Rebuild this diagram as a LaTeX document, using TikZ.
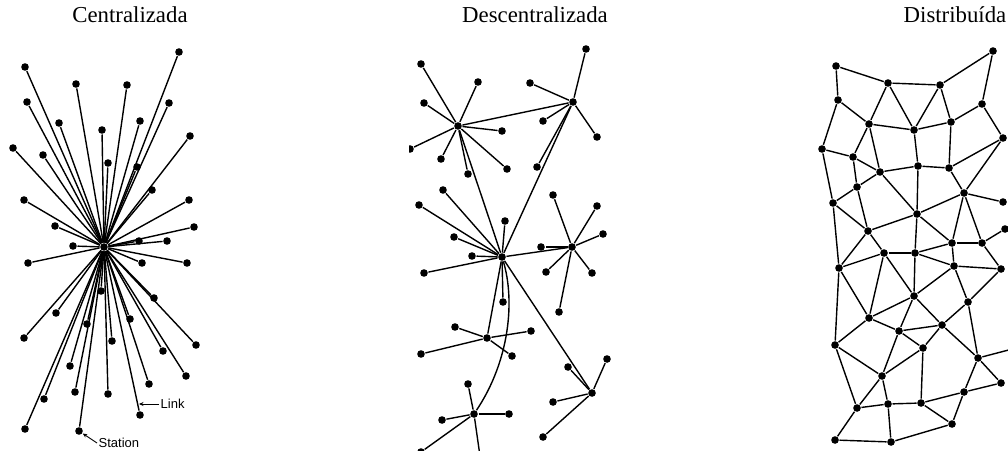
\documentclass[tikz,border=0pt]{standalone}
\usepackage{fontspec}
\setmainfont{Liberation Serif}
\newfontfamily\lblfont{Liberation Sans}
\usetikzlibrary{arrows.meta}

\begin{document}
\begin{tikzpicture}[x=1pt, y=-1pt, line width=1.4pt]
  \tikzstyle{station}=[circle, fill=black, inner sep=0pt, minimum size=7.6pt]
  \tikzstyle{title}=[anchor=base, inner sep=0pt, font=\fontsize{22.8}{24}\selectfont]
  \tikzstyle{tag}=[anchor=west, inner sep=1pt, font=\lblfont\fontsize{13}{14}\selectfont]
  \useasboundingbox (0,0) rectangle (1008,450);

  \node[title]                  (tcen)  at (130,22) {Centralizada};
  \node[title]                  (tdec)  at (535,22) {Descentralizada};
  \node[title, anchor=base west] (tdis) at (903,22) {Distribuída};

  % centralizada
  \node[station] (hub) at (104,247) {};
  \foreach \x/\y [count=\i] in {179/52, 25/67, 76/84, 127/85, 27/102, 169/103, 59/123,
      140/121, 102/130, 190/136, 13/148, 43/155, 108/163, 137/167, 152/190, 24/200,
      189/200, 55/226, 194/227, 73/246, 139/241, 167/241, 28/263, 142/263, 187/263,
      101/291, 154/298, 56/313, 130/319, 87/324, 24/338, 112/341, 196/345, 163/351,
      70/366, 186/376, 149/384, 75/392, 108/394, 44/399, 140/415, 25/429, 79/431} {
    \node[station] (c\i) at (\x,\y) {};
    \path (hub) edge (c\i);
  }
  \node[tag] (link) at (159,404) {Link};
  \coordinate (linkpt) at (139,404);
  \draw[-{Stealth[length=4.5pt, width=4pt]}, line width=0.9pt] (link.west) -- (linkpt);
  \node[tag] (stn) at (97,443) {Station};
  \draw[-{Stealth[length=4.5pt, width=4pt]}, line width=0.9pt] (stn.west) -- (c43);

  % descentralizada
  \begin{scope}
    \clip (409,30) rectangle (640,450);
    \node[station] (A) at (458,126) {};
    \node[station] (B) at (573,102) {};
    \node[station] (C) at (502,257) {};
    \node[station] (D) at (572,247) {};
    \node[station] (E) at (487,338) {};
    \node[station] (F) at (592,393) {};
    \node[station] (G) at (474,414) {};
    \foreach \x/\y [count=\i] in {421/64, 478/82, 424/103, 410/149, 441/159, 468/174, 502/131, 507/169}
      {\node[station] (a\i) at (\x,\y) {}; \path (A) edge (a\i);}
    \foreach \x/\y [count=\i] in {586/49, 530/83, 543/121, 597/137, 537/167}
      {\node[station] (b\i) at (\x,\y) {}; \path (B) edge (b\i);}
    \foreach \x/\y [count=\i] in {419/205, 443/190, 454/237, 505/221, 472/256, 424/273, 503/302}
      {\node[station] (cc\i) at (\x,\y) {}; \path (C) edge (cc\i);}
    \foreach \x/\y [count=\i] in {541/247, 553/195, 597/206, 603/234, 546/272, 592/273, 559/312}
      {\node[station] (dd\i) at (\x,\y) {}; \path (D) edge (dd\i);}
    \foreach \x/\y [count=\i] in {455/327, 531/331, 421/354, 512/356}
      {\node[station] (e\i) at (\x,\y) {}; \path (E) edge (e\i);}
    \foreach \x/\y [count=\i] in {568/367, 607/359, 553/402, 543/437}
      {\node[station] (f\i) at (\x,\y) {}; \path (F) edge (f\i);}
    \foreach \x/\y [count=\i] in {468/384, 442/420, 509/414, 421/452}
      {\node[station] (g\i) at (\x,\y) {}; \path (G) edge (g\i);}
    \coordinate (gout) at (480,456);
    \path (G) edge (gout)
          (A) edge (B)
              edge (C)
          (B) edge (C)
          (C) edge (D)
              edge (E)
              edge (F);
    \draw (C) .. controls (515,300) and (510,360) .. (G);
  \end{scope}

  % distribuida
  \foreach \x/\y [count=\i] in {993/51, 836/66, 888/83, 940/85, 838/100, 982/104, 869/124,
      951/122, 914/130, 1003/138, 822/149, 853/157, 918/166, 949/168, 880/172, 857/187,
      964/193, 833/203, 1003/202, 917/214, 868/231, 1005/229, 952/243, 982/243, 884/253,
      915/253, 839/268, 954/266, 1001/269, 914/296, 968/302, 869/318, 942/325, 899/331,
      835/345, 923/348, 978/358, 882/376, 1001/383, 964/392, 857/408, 888/404, 921/403,
      952/424, 835/440, 891/442}
    \node[station] (d\i) at (\x,\y) {};
  \coordinate (dout) at (1020,347);
  \foreach \a/\b in {1/4, 1/6, 2/3, 2/5, 3/4, 3/7, 3/9, 4/9, 4/8, 5/7, 5/11, 6/8, 6/10,
      7/9, 7/12, 7/15, 8/9, 9/13, 8/14, 11/12, 11/18, 12/15, 12/16, 15/13, 15/16, 15/20,
      13/14, 13/20, 14/10, 14/17, 10/17, 16/18, 16/21, 17/20, 17/19, 17/23, 17/24, 18/21,
      18/27, 20/21, 20/26, 20/23, 21/25, 21/27, 23/24, 24/22, 23/28, 24/29, 25/26, 25/27,
      25/32, 25/30, 26/23, 26/28, 26/30, 28/29, 28/30, 28/31, 29/31, 27/32, 27/35, 30/32,
      30/34, 30/33, 31/33, 31/37, 32/34, 32/35, 34/33, 34/36, 34/38, 33/36, 33/37, 35/38,
      35/41, 36/38, 36/43, 37/39, 37/40, 39/40, 38/41, 38/42, 40/43, 40/44, 41/42, 41/45,
      42/43, 42/46, 43/44, 45/46, 46/44}
    \path (d\a) edge (d\b);
  \path (d37) edge (dout);
\end{tikzpicture}
\end{document}
